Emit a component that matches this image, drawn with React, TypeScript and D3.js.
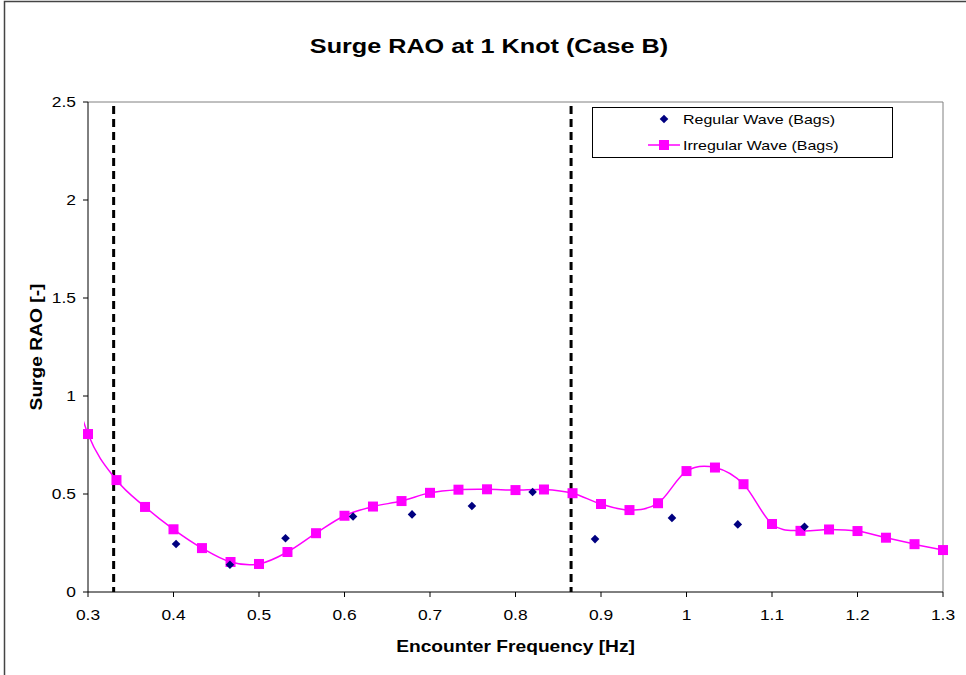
import React from "react";
import * as d3 from "d3";

// Irregular-wave surge RAO, sampled every 1/30 Hz
const irregularFreq: number[] = [
  0.2667, 0.3, 0.3333, 0.3667, 0.4, 0.4333, 0.4667, 0.5, 0.5333, 0.5667, 0.6, 0.6333,
  0.6667, 0.7, 0.7333, 0.7667, 0.8, 0.8333, 0.8667, 0.9, 0.9333, 0.9667, 1.0,
  1.0333, 1.0667, 1.1, 1.1333, 1.1667, 1.2, 1.2333, 1.2667, 1.3,
];
const irregularRAO: number[] = [
  1.3, 0.806, 0.571, 0.434, 0.32, 0.224, 0.153, 0.143, 0.204, 0.3, 0.389, 0.436,
  0.464, 0.506, 0.522, 0.524, 0.52, 0.523, 0.504, 0.449, 0.418, 0.453, 0.617,
  0.635, 0.55, 0.347, 0.312, 0.319, 0.311, 0.277, 0.244, 0.214,
];

// Regular-wave surge RAO
const regularFreq: number[] = [0.403, 0.466, 0.531, 0.61, 0.679, 0.749, 0.82, 0.893, 0.983, 1.06, 1.138];
const regularRAO: number[] = [0.245, 0.139, 0.274, 0.385, 0.396, 0.439, 0.51, 0.27, 0.378, 0.345, 0.333];

// Vertical reference lines (frequency band limits)
const bandLimits: number[] = [0.33, 0.865];

const xTicks: number[] = [0.3, 0.4, 0.5, 0.6, 0.7, 0.8, 0.9, 1.0, 1.1, 1.2, 1.3];
const yTicks: number[] = [0, 0.5, 1, 1.5, 2, 2.5];

const legendLabels: string[] = ["Regular Wave (Bags)", "Irregular Wave (Bags)"];

const W = 966;
const H = 675;
const plot = { left: 88, top: 102, right: 943, bottom: 592 };
const FONT = "'Liberation Sans', Arial, sans-serif";
const MAGENTA = "#FF00FF";
const NAVY = "#000080";
const STRETCH = 1.2; // horizontal text widening

type Pt = { f: number; v: number };

function Label(props: {
  x: number;
  y: number;
  size: number;
  anchor?: "start" | "middle" | "end";
  bold?: boolean;
  rotate?: number;
  children: React.ReactNode;
}) {
  const { x, y, size, anchor = "start", bold, rotate = 0, children } = props;
  const t = rotate
    ? `translate(${x},${y}) rotate(${rotate}) scale(${STRETCH},1)`
    : `translate(${x},${y}) scale(${STRETCH},1)`;
  return (
    <text transform={t} textAnchor={anchor} fontSize={size} fontWeight={bold ? "bold" : "normal"}>
      {children}
    </text>
  );
}

export default function App() {
  const x = d3.scaleLinear().domain([0.3, 1.3]).range([plot.left, plot.right]);
  const y = d3.scaleLinear().domain([0, 2.5]).range([plot.bottom, plot.top]);

  const irregular: Pt[] = irregularFreq.map((f, i) => ({ f, v: irregularRAO[i] }));
  const regular: Pt[] = regularFreq.map((f, i) => ({ f, v: regularRAO[i] }));

  const line = d3
    .line<Pt>()
    .x((d) => x(d.f))
    .y((d) => y(d.v))
    .curve(d3.curveCardinal.tension(0));

  const visible = irregular.filter((d) => d.f >= 0.3 - 1e-9);
  const diamond = "M0,-4.3L4.3,0L0,4.3L-4.3,0Z";
  const xFmt = (t: number) => (t === 1 ? "1" : d3.format(".1f")(t));

  const legend = { x: 592, y: 107, w: 300, h: 50 };

  return (
    <svg
      width={W}
      height={H}
      style={{ position: "absolute", left: 0, top: 0, background: "#fff" }}
      fontFamily={FONT}
    >
      <defs>
        <clipPath id="plotClip">
          <rect x={plot.left - 4} y={plot.top} width={plot.right - plot.left + 4} height={plot.bottom - plot.top} />
        </clipPath>
      </defs>

      {/* chart frame */}
      <path d={`M4.5,${H} V1.5 H${W}`} fill="none" stroke="#444" strokeWidth={1.5} />

      {/* title */}
      <Label x={489} y={53} size={21} anchor="middle" bold>
        Surge RAO at 1 Knot (Case B)
      </Label>

      {/* plot border: grey top & right */}
      <path
        d={`M${plot.left},${plot.top} H${plot.right} V${plot.bottom}`}
        fill="none"
        stroke="#808080"
        strokeWidth={1}
      />

      {/* axes */}
      <line x1={plot.left} x2={plot.left} y1={plot.top} y2={plot.bottom} stroke="#000" />
      <line x1={plot.left} x2={plot.right} y1={plot.bottom} y2={plot.bottom} stroke="#000" />

      {yTicks.map((t) => (
        <g key={`y${t}`}>
          <line x1={plot.left - 5} x2={plot.left} y1={y(t)} y2={y(t)} stroke="#000" />
          <Label x={76} y={y(t) + 5} size={14.5} anchor="end">
            {String(t)}
          </Label>
        </g>
      ))}
      {xTicks.map((t) => (
        <g key={`x${t}`}>
          <line x1={x(t)} x2={x(t)} y1={plot.bottom} y2={plot.bottom + 5} stroke="#000" />
          <Label x={x(t)} y={plot.bottom + 28} size={14.5} anchor="middle">
            {xFmt(t)}
          </Label>
        </g>
      ))}

      {/* axis titles */}
      <Label x={(plot.left + plot.right) / 2} y={652} size={16} anchor="middle" bold>
        Encounter Frequency [Hz]
      </Label>
      <Label x={42} y={(plot.top + plot.bottom) / 2} size={16} anchor="middle" bold rotate={-90}>
        Surge RAO [-]
      </Label>

      {/* band limits */}
      {bandLimits.map((f) => (
        <line
          key={`b${f}`}
          x1={x(f)}
          x2={x(f)}
          y1={y(2.48)}
          y2={y(0)}
          stroke="#000"
          strokeWidth={3}
          strokeDasharray="8,5"
        />
      ))}

      {/* irregular wave curve */}
      <path d={line(irregular) || ""} fill="none" stroke={MAGENTA} strokeWidth={1.5} clipPath="url(#plotClip)" />
      {visible.map((d, i) => (
        <rect key={`s${i}`} x={x(d.f) - 5} y={y(d.v) - 5} width={10} height={10} fill={MAGENTA} />
      ))}

      {/* regular wave points */}
      {regular.map((d, i) => (
        <path key={`d${i}`} d={diamond} transform={`translate(${x(d.f)},${y(d.v)})`} fill={NAVY} />
      ))}

      {/* legend */}
      <rect x={legend.x + 0.5} y={legend.y + 0.5} width={legend.w} height={legend.h} fill="#fff" stroke="#000" />
      <path d={diamond} transform={`translate(${legend.x + 72},${legend.y + 12})`} fill={NAVY} />
      <Label x={legend.x + 91} y={legend.y + 17} size={13.3}>
        {legendLabels[0]}
      </Label>
      <line
        x1={legend.x + 56}
        x2={legend.x + 88}
        y1={legend.y + 38}
        y2={legend.y + 38}
        stroke={MAGENTA}
        strokeWidth={1.5}
      />
      <rect x={legend.x + 67} y={legend.y + 33} width={10} height={10} fill={MAGENTA} />
      <Label x={legend.x + 91} y={legend.y + 43} size={13.3}>
        {legendLabels[1]}
      </Label>
    </svg>
  );
}
